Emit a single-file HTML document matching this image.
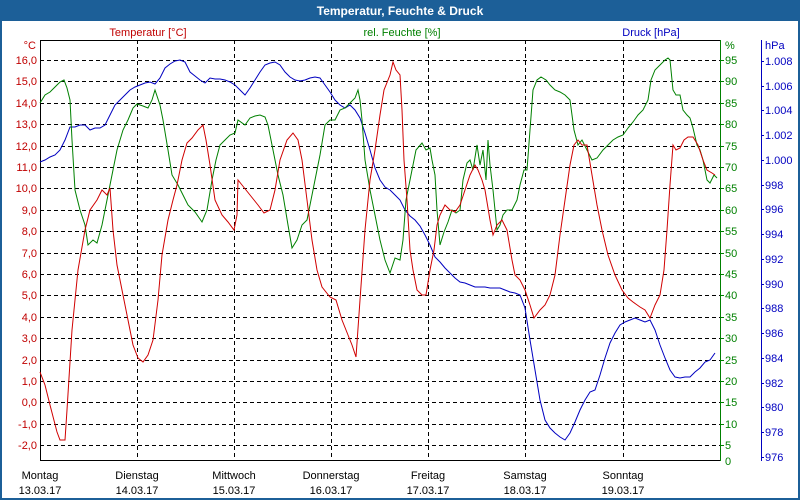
<!DOCTYPE html>
<html><head><meta charset="utf-8"><style>
html,body{margin:0;padding:0;background:#fff;}
svg{display:block;font-family:"Liberation Sans","DejaVu Sans",sans-serif;}
</style></head><body>
<svg width="800" height="500" viewBox="0 0 800 500" xmlns="http://www.w3.org/2000/svg">
<rect x="0" y="0" width="800" height="500" fill="#1c5f98"/>
<rect x="2" y="21" width="796" height="477" fill="#fff"/>
<text x="400" y="15" fill="#fff" font-size="12" font-weight="bold" text-anchor="middle">Temperatur, Feuchte &amp; Druck</text>
<text x="148" y="36" fill="#c00000" font-size="11" text-anchor="middle">Temperatur [°C]</text>
<text x="402" y="36" fill="#008000" font-size="11" text-anchor="middle">rel. Feuchte [%]</text>
<text x="651" y="36" fill="#0000c0" font-size="11" text-anchor="middle">Druck [hPa]</text>
<g stroke="#000" stroke-dasharray="4,3" stroke-width="1">
<line x1="40" x2="720" y1="60.5" y2="60.5"/><line x1="40" x2="720" y1="81.5" y2="81.5"/><line x1="40" x2="720" y1="103.5" y2="103.5"/><line x1="40" x2="720" y1="124.5" y2="124.5"/><line x1="40" x2="720" y1="146.5" y2="146.5"/><line x1="40" x2="720" y1="167.5" y2="167.5"/><line x1="40" x2="720" y1="188.5" y2="188.5"/><line x1="40" x2="720" y1="210.5" y2="210.5"/><line x1="40" x2="720" y1="231.5" y2="231.5"/><line x1="40" x2="720" y1="253.5" y2="253.5"/><line x1="40" x2="720" y1="274.5" y2="274.5"/><line x1="40" x2="720" y1="295.5" y2="295.5"/><line x1="40" x2="720" y1="317.5" y2="317.5"/><line x1="40" x2="720" y1="338.5" y2="338.5"/><line x1="40" x2="720" y1="360.5" y2="360.5"/><line x1="40" x2="720" y1="381.5" y2="381.5"/><line x1="40" x2="720" y1="402.5" y2="402.5"/><line x1="40" x2="720" y1="424.5" y2="424.5"/><line x1="40" x2="720" y1="445.5" y2="445.5"/>
<line x1="137.5" x2="137.5" y1="40" y2="461"/><line x1="234.5" x2="234.5" y1="40" y2="461"/><line x1="331.5" x2="331.5" y1="40" y2="461"/><line x1="428.5" x2="428.5" y1="40" y2="461"/><line x1="525.5" x2="525.5" y1="40" y2="461"/><line x1="623.5" x2="623.5" y1="40" y2="461"/>
</g>
<line x1="40.5" y1="40" x2="40.5" y2="461" stroke="#000"/>
<line x1="40" y1="460.5" x2="720" y2="460.5" stroke="#000"/>
<line x1="40" y1="40.5" x2="720" y2="40.5" stroke="#000"/>
<line x1="720.5" y1="40" x2="720.5" y2="461" stroke="#008000"/>
<line x1="761.5" y1="40" x2="761.5" y2="461" stroke="#0000c0"/>
<g fill="#c00000" font-size="11" text-anchor="end">
<text x="36" y="49">°C</text>
<text x="37" y="64">16,0</text><text x="37" y="85">15,0</text><text x="37" y="107">14,0</text><text x="37" y="128">13,0</text><text x="37" y="150">12,0</text><text x="37" y="171">11,0</text><text x="37" y="192">10,0</text><text x="37" y="214">9,0</text><text x="37" y="235">8,0</text><text x="37" y="257">7,0</text><text x="37" y="278">6,0</text><text x="37" y="299">5,0</text><text x="37" y="321">4,0</text><text x="37" y="342">3,0</text><text x="37" y="364">2,0</text><text x="37" y="385">1,0</text><text x="37" y="406">0,0</text><text x="37" y="428">-1,0</text><text x="37" y="449">-2,0</text>
</g>
<g fill="#008000" font-size="11">
<text x="725" y="49">%</text>
<text x="725" y="64">95</text><text x="725" y="85">90</text><text x="725" y="107">85</text><text x="725" y="128">80</text><text x="725" y="150">75</text><text x="725" y="171">70</text><text x="725" y="192">65</text><text x="725" y="214">60</text><text x="725" y="235">55</text><text x="725" y="257">50</text><text x="725" y="278">45</text><text x="725" y="299">40</text><text x="725" y="321">35</text><text x="725" y="342">30</text><text x="725" y="364">25</text><text x="725" y="385">20</text><text x="725" y="406">15</text><text x="725" y="428">10</text><text x="725" y="449">5</text><text x="725" y="465">0</text>
</g>
<g stroke="#008000"><line x1="720" x2="724" y1="60.5" y2="60.5"/><line x1="720" x2="724" y1="81.5" y2="81.5"/><line x1="720" x2="724" y1="103.5" y2="103.5"/><line x1="720" x2="724" y1="124.5" y2="124.5"/><line x1="720" x2="724" y1="146.5" y2="146.5"/><line x1="720" x2="724" y1="167.5" y2="167.5"/><line x1="720" x2="724" y1="188.5" y2="188.5"/><line x1="720" x2="724" y1="210.5" y2="210.5"/><line x1="720" x2="724" y1="231.5" y2="231.5"/><line x1="720" x2="724" y1="253.5" y2="253.5"/><line x1="720" x2="724" y1="274.5" y2="274.5"/><line x1="720" x2="724" y1="295.5" y2="295.5"/><line x1="720" x2="724" y1="317.5" y2="317.5"/><line x1="720" x2="724" y1="338.5" y2="338.5"/><line x1="720" x2="724" y1="360.5" y2="360.5"/><line x1="720" x2="724" y1="381.5" y2="381.5"/><line x1="720" x2="724" y1="402.5" y2="402.5"/><line x1="720" x2="724" y1="424.5" y2="424.5"/><line x1="720" x2="724" y1="445.5" y2="445.5"/></g>
<g fill="#0000c0" font-size="11">
<text x="765" y="49">hPa</text>
<text x="765" y="65">1.008</text><text x="765" y="90">1.006</text><text x="765" y="114">1.004</text><text x="765" y="139">1.002</text><text x="765" y="164">1.000</text><text x="765" y="189">998</text><text x="765" y="213">996</text><text x="765" y="238">994</text><text x="765" y="263">992</text><text x="765" y="288">990</text><text x="765" y="312">988</text><text x="765" y="337">986</text><text x="765" y="362">984</text><text x="765" y="387">982</text><text x="765" y="411">980</text><text x="765" y="436">978</text><text x="765" y="461">976</text>
</g>
<g stroke="#0000c0"><line x1="761" x2="764" y1="61.5" y2="61.5"/><line x1="761" x2="764" y1="86.5" y2="86.5"/><line x1="761" x2="764" y1="110.5" y2="110.5"/><line x1="761" x2="764" y1="135.5" y2="135.5"/><line x1="761" x2="764" y1="160.5" y2="160.5"/><line x1="761" x2="764" y1="185.5" y2="185.5"/><line x1="761" x2="764" y1="209.5" y2="209.5"/><line x1="761" x2="764" y1="234.5" y2="234.5"/><line x1="761" x2="764" y1="259.5" y2="259.5"/><line x1="761" x2="764" y1="284.5" y2="284.5"/><line x1="761" x2="764" y1="308.5" y2="308.5"/><line x1="761" x2="764" y1="333.5" y2="333.5"/><line x1="761" x2="764" y1="358.5" y2="358.5"/><line x1="761" x2="764" y1="383.5" y2="383.5"/><line x1="761" x2="764" y1="407.5" y2="407.5"/><line x1="761" x2="764" y1="432.5" y2="432.5"/><line x1="761" x2="764" y1="457.5" y2="457.5"/></g>
<g fill="#000" font-size="11" text-anchor="middle">
<text x="40" y="479">Montag</text><text x="40" y="494">13.03.17</text>
<text x="137" y="479">Dienstag</text><text x="137" y="494">14.03.17</text>
<text x="234" y="479">Mittwoch</text><text x="234" y="494">15.03.17</text>
<text x="331" y="479">Donnerstag</text><text x="331" y="494">16.03.17</text>
<text x="428" y="479">Freitag</text><text x="428" y="494">17.03.17</text>
<text x="525" y="479">Samstag</text><text x="525" y="494">18.03.17</text>
<text x="623" y="479">Sonntag</text><text x="623" y="494">19.03.17</text>
</g>
<polyline fill="none" stroke="#0000c0" stroke-width="1" points="40,162 45,160 50,157 55,155 60,150 65,140 70,127 75,127 80,125 85,125 90,130 95,128 100,128 105,125 110,115 115,105 120,100 125,95 130,90 135,87 140,85 145,83 150,82 155,84 160,78 165,68 170,64 175,61 180,60 185,62 190,72 195,76 200,80 205,83 210,78 215,79 220,79 225,80 230,82 235,85 240,90 245,95 250,88 255,80 260,72 265,65 270,63 275,62 280,65 285,72 290,77 295,80 300,81 305,80 310,78 315,77 320,78 325,85 330,92 335,100 340,105 345,108 350,105 355,110 360,118 365,133 370,150 375,168 380,180 385,187 390,190 395,195 400,200 405,210 410,216 415,220 420,226 425,235 430,245 435,257 440,262 445,268 450,273 455,278 460,282 465,283 470,285 475,287 480,287 485,287 490,288 495,288 500,288 505,290 510,292 515,293 520,295 525,308 530,340 535,370 540,400 545,420 550,428 555,433 560,437 565,440 570,433 575,422 580,410 585,400 590,392 595,390 600,375 605,358 610,343 615,333 620,325 625,322 630,320 635,318 640,320 645,322 650,320 655,330 660,345 665,358 670,370 675,377 680,378 685,377 690,377 695,372 700,368 705,362 710,360 715,353"/>
<polyline fill="none" stroke="#008000" stroke-width="1" points="40,103 45,95 50,92 57,85 60,82 64,80 67,88 70,100 72,140 75,190 80,210 85,225 88,245 93,240 97,243 102,225 107,200 112,175 117,150 123,130 128,120 133,108 137,104 143,106 148,108 152,100 155,90 160,105 163,120 168,150 172,175 178,185 183,195 188,205 195,212 202,222 207,210 212,180 216,160 220,145 225,140 230,135 235,133 238,120 245,125 250,118 255,116 260,115 265,117 268,125 273,150 278,175 283,195 288,225 292,248 297,240 302,225 307,220 312,195 316,175 320,155 325,125 330,120 335,120 340,110 345,108 350,103 355,98 358,90 360,100 362,120 365,160 370,190 375,215 380,240 385,260 390,273 395,258 400,260 403,240 406,200 410,180 416,150 422,143 426,150 430,148 432,160 435,175 437,210 440,245 444,232 448,222 452,210 456,213 460,210 463,180 467,163 470,160 473,170 477,145 480,165 483,150 486,180 488,140 490,165 493,190 497,230 500,225 503,215 507,210 512,210 517,200 520,185 524,170 527,170 530,130 533,90 537,80 541,77 546,80 550,85 555,90 560,92 565,95 570,100 574,130 578,145 582,140 587,150 592,160 597,158 603,150 608,145 613,140 618,137 623,135 628,128 633,122 638,115 643,110 648,100 651,80 655,70 660,65 665,60 668,58 670,60 673,90 676,95 680,95 683,110 687,115 690,118 693,128 697,145 700,150 703,160 707,180 710,183 714,175 717,178"/>
<polyline fill="none" stroke="#d00000" stroke-width="1" points="40,372 45,385 50,405 57,432 60,440 65,440 67,410 72,330 78,270 85,230 90,210 97,200 102,190 107,195 110,188 113,230 117,265 122,290 128,320 133,345 138,358 143,362 148,355 153,340 158,300 162,255 168,220 173,200 177,185 182,160 187,143 192,138 198,130 203,125 206,140 210,165 215,200 222,215 228,222 234,230 237,215 238,180 242,185 250,195 258,205 264,213 270,210 275,190 280,160 287,140 293,133 298,140 302,160 307,200 312,240 317,270 322,287 330,297 336,300 342,320 348,335 352,345 356,357 360,300 365,230 370,180 375,150 380,115 384,90 390,75 393,62 396,70 400,75 402,110 404,160 407,200 410,250 413,270 417,290 422,295 426,295 430,270 434,250 437,225 440,215 445,205 450,210 455,212 460,205 465,190 470,175 475,165 478,170 482,180 485,190 490,220 493,235 497,225 502,220 507,230 512,260 515,275 520,280 525,290 530,305 534,318 540,310 545,305 550,295 555,275 560,235 565,200 570,165 574,145 578,140 582,145 587,145 592,175 597,205 602,230 608,255 615,275 622,290 628,298 633,302 640,307 645,310 650,318 655,305 660,295 664,270 667,230 670,185 673,145 676,150 680,148 684,140 688,137 693,137 698,145 703,160 707,170 712,173 715,175"/>
</svg>
</body></html>
